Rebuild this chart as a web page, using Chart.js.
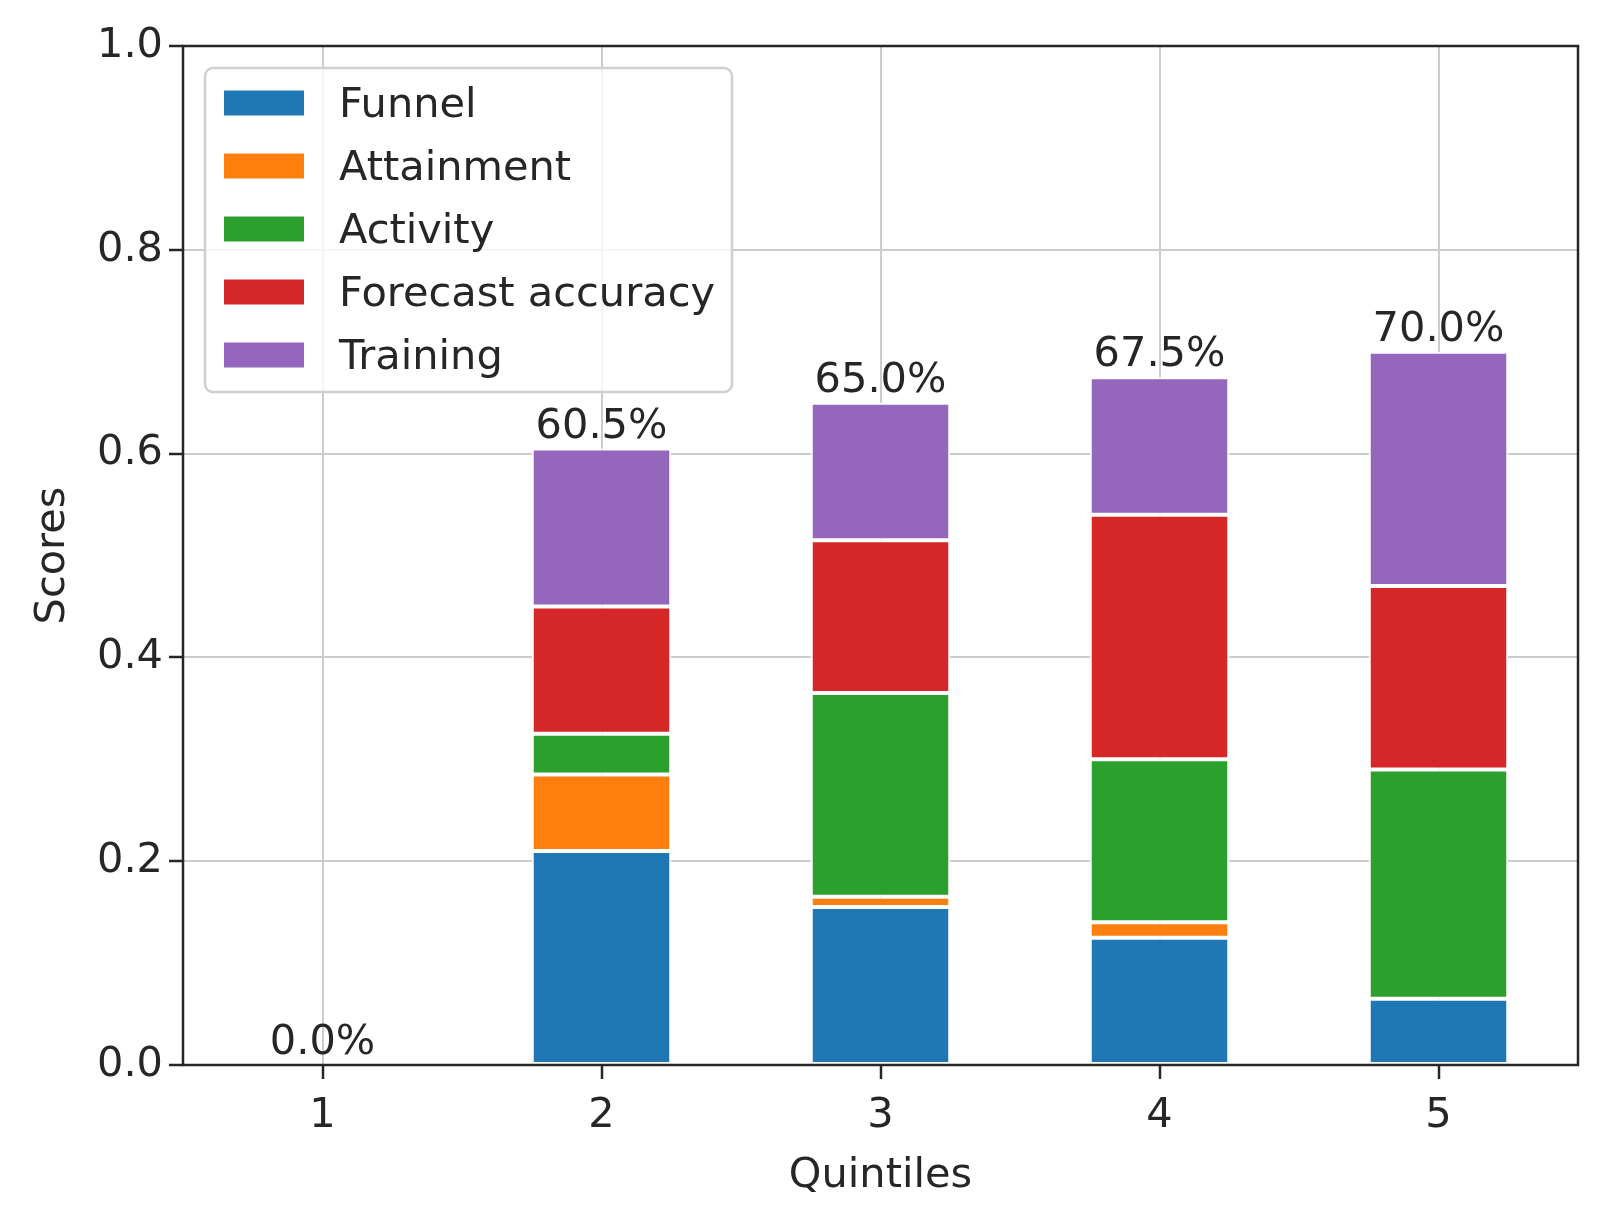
<!DOCTYPE html>
<html>
<head>
<meta charset="utf-8">
<script src="https://cdn.jsdelivr.net/npm/chart.js@4.4.1/dist/chart.umd.min.js"></script>
<style>
  html, body { margin: 0; padding: 0; background: #ffffff; }
  #wrap { width: 1609px; height: 1225px; }
</style>
</head>
<body>
<div id="wrap"><canvas id="myChart" width="1609" height="1225"></canvas></div>
<script>
// Dữ liệu biểu đồ
var quintiles = ['1', '2', '3', '4', '5'];
var funnel    = [0, 0.210, 0.155, 0.125, 0.065];
var attainment = [0, 0.075, 0.010, 0.015, 0.000];
var activity  = [0, 0.040, 0.200, 0.160, 0.225];
var forecast  = [0, 0.125, 0.150, 0.240, 0.180];
var training  = [0, 0.155, 0.135, 0.135, 0.230];
var yTicks = [0, 0.2, 0.4, 0.6, 0.8, 1.0];

var textColor = '#262626';
var fontFamily = '"DejaVu Sans", sans-serif';
var fontSize = 41.5;

// Vẽ khung, nhãn tổng và chú giải
var overlayPlugin = {
    id: 'overlay',
    afterDraw: function (chart) {
        var ctx = chart.ctx;
        var area = chart.chartArea;
        var xs = chart.scales.x, ys = chart.scales.y;
        ctx.save();

        // nhãn phần trăm trên đỉnh cột
        ctx.font = fontSize + 'px ' + fontFamily;
        ctx.fillStyle = textColor;
        ctx.textAlign = 'center';
        ctx.textBaseline = 'alphabetic';
        quintiles.forEach(function (q, i) {
            var total = chart.data.datasets.reduce(function (s, d) { return s + d.data[i]; }, 0);
            var x = xs.getPixelForValue(i);
            var y = ys.getPixelForValue(total);
            ctx.fillText((total * 100).toFixed(1) + '%', x, y - 11);
        });

        // khung trục
        ctx.strokeStyle = textColor;
        ctx.lineWidth = 2.5;
        ctx.strokeRect(area.left, area.top, area.right - area.left, area.bottom - area.top);

        // chú giải
        var lx = area.left + 22, ly = area.top + 22;
        var lw = 527, lh = 324, r = 8;
        ctx.beginPath();
        ctx.moveTo(lx + r, ly);
        ctx.arcTo(lx + lw, ly, lx + lw, ly + lh, r);
        ctx.arcTo(lx + lw, ly + lh, lx, ly + lh, r);
        ctx.arcTo(lx, ly + lh, lx, ly, r);
        ctx.arcTo(lx, ly, lx + lw, ly, r);
        ctx.closePath();
        ctx.fillStyle = 'rgba(255,255,255,0.8)';
        ctx.fill();
        ctx.strokeStyle = '#d0d0d0';
        ctx.lineWidth = 2.5;
        ctx.stroke();

        ctx.textAlign = 'left';
        ctx.textBaseline = 'middle';
        chart.data.datasets.forEach(function (d, k) {
            var cy = ly + 35 + k * 63;
            ctx.fillStyle = d.backgroundColor;
            ctx.fillRect(lx + 19, cy - 12.5, 80, 25);
            ctx.fillStyle = textColor;
            ctx.fillText(d.label, lx + 134, cy + 3);
        });
        ctx.restore();
    }
};

var ctx = document.getElementById('myChart').getContext('2d');
var myChart = new Chart(ctx, {
    type: 'bar',
    data: {
        labels: quintiles,
        datasets: [
            { label: 'Funnel', data: funnel, backgroundColor: '#1f77b4' },
            { label: 'Attainment', data: attainment, backgroundColor: '#ff7f0e' },
            { label: 'Activity', data: activity, backgroundColor: '#2ca02c' },
            { label: 'Forecast accuracy', data: forecast, backgroundColor: '#d62728' },
            { label: 'Training', data: training, backgroundColor: '#9467bd' }
        ].map(function (d) {
            d.borderColor = '#ffffff';
            d.borderWidth = 2;
            d.borderSkipped = false;
            d.barPercentage = 0.5;
            d.categoryPercentage = 1.0;
            return d;
        })
    },
    options: {
        responsive: false,
        animation: false,
        devicePixelRatio: 1,
        layout: { padding: { left: 0, top: 46, right: 31, bottom: 0 } },
        scales: {
            x: {
                stacked: true,
                afterFit: function (scale) { scale.height = 160; },
                grid: {
                    offset: false,
                    color: '#cccccc',
                    lineWidth: 2,
                    tickColor: textColor,
                    tickLength: 14,
                    tickWidth: 2.5
                },
                border: { display: false },
                ticks: {
                    color: textColor,
                    padding: 12,
                    maxRotation: 0,
                    font: { family: fontFamily, size: fontSize }
                },
                title: {
                    display: true,
                    text: 'Quintiles',
                    color: textColor,
                    font: { family: fontFamily, size: fontSize },
                    padding: { top: 0, bottom: 24 }
                }
            },
            y: {
                stacked: true,
                min: 0,
                max: 1,
                afterFit: function (scale) { scale.width = 183; },
                afterBuildTicks: function (scale) {
                    scale.ticks = yTicks.map(function (v) { return { value: v }; });
                },
                grid: {
                    color: '#cccccc',
                    lineWidth: 2,
                    tickColor: textColor,
                    tickLength: 14,
                    tickWidth: 2.5
                },
                border: { display: false },
                ticks: {
                    color: textColor,
                    padding: 6,
                    font: { family: fontFamily, size: fontSize },
                    callback: function (v) { return Number(v).toFixed(1); }
                },
                title: {
                    display: true,
                    text: 'Scores',
                    color: textColor,
                    font: { family: fontFamily, size: fontSize },
                    padding: { top: 28, bottom: 0 }
                }
            }
        },
        plugins: {
            legend: { display: false },
            tooltip: { enabled: false }
        }
    },
    plugins: [overlayPlugin]
});
</script>
</body>
</html>
